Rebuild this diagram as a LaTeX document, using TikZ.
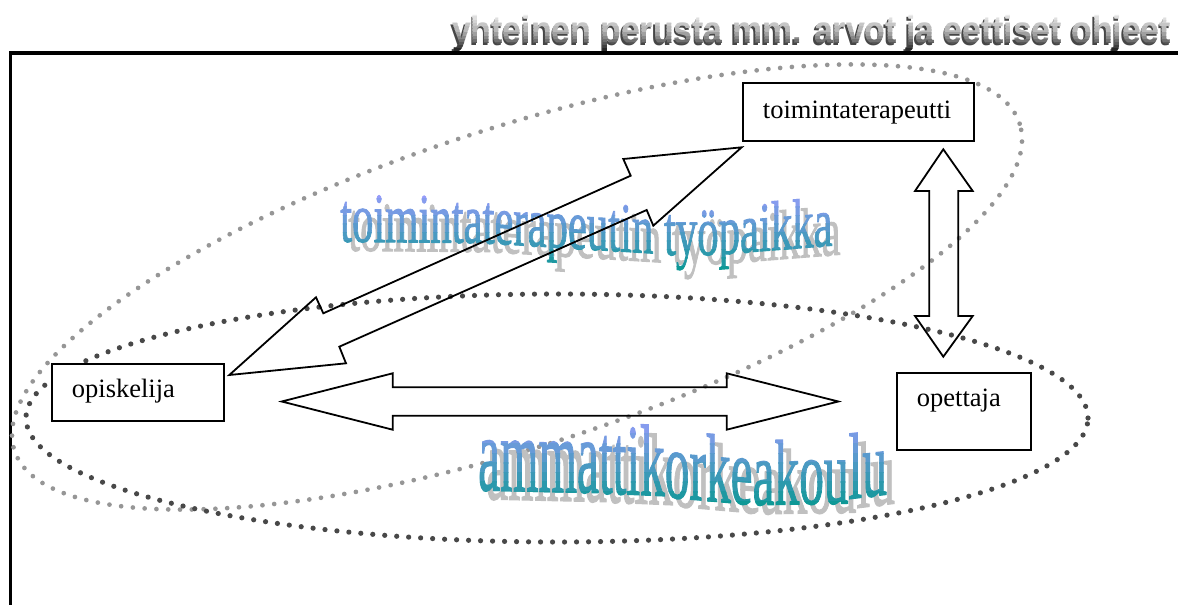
\documentclass[tikz,border=0pt]{standalone}
\usepackage{fontspec}
\setmainfont{Liberation Serif}
\newfontfamily\wasans{Liberation Sans}
\newfontfamily\waserif{Liberation Serif}[FakeBold=1.4]
\usetikzlibrary{calc}
\definecolor{gtop}{RGB}{150,156,250}
\definecolor{gbot}{RGB}{14,152,150}
\definecolor{shad}{RGB}{192,192,192}
\definecolor{ellgray}{RGB}{150,150,150}
\definecolor{elldark}{RGB}{72,72,72}
\definecolor{ttop}{RGB}{236,236,236}
\definecolor{tmid}{RGB}{185,185,185}
\definecolor{tbot}{RGB}{40,40,40}
\definecolor{tshad}{RGB}{70,70,70}
\tikzset{
 frameline/.style={line width=3.5pt, line join=miter},
 dotsgray/.style={draw=ellgray, line width=4.7pt, line cap=round, dash pattern=on 0pt off 11.8pt},
 dotsdark/.style={draw=elldark, line width=5.2pt, line cap=round, dash pattern=on 0pt off 12pt},
 blockarrow/.style={draw=black, line width=1.8pt, line join=miter, miter limit=12},
 rolebox/.style={draw=black, fill=white, line width=1.8pt, inner sep=0pt, anchor=north west},
 rolelabel/.style={anchor=base west, inner sep=0pt, font=\fontsize{26.5}{30}\selectfont},
 waA/.style={anchor=base west, inner sep=0pt, font=\waserif\fontsize{42.7}{50}\selectfont},
 waB/.style={anchor=base west, inner sep=0pt, font=\waserif\fontsize{49.4}{56}\selectfont},
 waTop/.style={anchor=base west, inner sep=0pt, font=\wasans\bfseries\fontsize{33.8}{40}\selectfont, yscale=1.15},
}
\newcommand\WordArtA[1]{%
 \node[waA,#1,yslant=-0.0087,yscale=1.65] (wa1) at (340,241.7) {toiminta};
 \node[waA,#1,yslant=-0.061,yscale=1.65] (wa2) at (482.4,243) {terapeutin};
 \node[waA,#1,yslant=0,yscale=1.65] (wa3) at (663.9,255) {työ};
 \node[waA,#1,yslant=0.0787,yscale=1.65] (wa4) at (718.5,254.5) {paikka};
}
\newcommand\WordArtB[1]{%
 \node[waB,#1,yslant=-0.0227,yscale=2.15] (wb1) at (478,490) {amma};
 \node[waB,#1,yslant=-0.0437,yscale=2.05] (wb2) at (598.7,493) {ttik};
 \node[waB,#1,yslant=-0.0875,yscale=1.95] (wb3) at (664.6,497) {orke};
 \node[waB,#1,yslant=0.0175,yscale=1.88] (wb4) at (752.4,505) {akou};
 \node[waB,#1,yslant=0.12,yscale=1.9] (wb5) at (848.4,499) {lu};
}
\newcommand\WordArtTop[1]{%
 \node[waTop,#1] (wtop) at (452,43.7) {yhteinen perusta mm. arvot ja eettiset ohjeet};
}
\begin{document}
\begin{tikzpicture}[x=1pt,y=-1pt]
\useasboundingbox (0,0) rectangle (1178,605);
\fill[white] (0,0) rectangle (1178,605);
% frame
\coordinate (fbl) at (10.5,605);
\coordinate (ftl) at (10.5,53);
\coordinate (ftr) at (1178,53);
% top title (shadow + metallic gradient)
\begin{scope}[shift={(-1.5,1.5)}]
 \WordArtTop{text=tshad}
\end{scope}
\foreach \i in {0,...,4}{
 \pgfmathsetmacro\ya{14+\i*3.2-0.3}
 \pgfmathsetmacro\yb{14+(\i+1)*3.2+0.3}
 \pgfmathtruncatemacro\pc{100-\i*100/4}
 \begin{scope}
  \clip (440,\ya) rectangle (1178,\yb);
  \WordArtTop{text=ttop!\pc!tmid}
 \end{scope}
}
\foreach \i in {0,...,6}{
 \pgfmathsetmacro\ya{30+\i*3.2-0.3}
 \pgfmathsetmacro\yb{30+(\i+1)*3.2+0.3}
 \pgfmathtruncatemacro\pc{100-\i*100/6}
 \begin{scope}
  \clip (440,\ya) rectangle (1178,\yb);
  \WordArtTop{text=tmid!\pc!tbot}
 \end{scope}
}
\draw[frameline] (fbl) -- (ftl) -- (ftr);
% ellipses
\coordinate (cg) at (517,287);
\coordinate (cd) at (557,418);
\draw[dotsgray, rotate around={18:(cg)}] (cg) ellipse [x radius=528.5pt, y radius=159pt];
\draw[dotsdark] (cd) ellipse [x radius=531pt, y radius=124pt];
% word art: workplace
\begin{scope}[shift={(8,9)}]
 \WordArtA{text=shad}
\end{scope}
\foreach \i in {0,...,9}{
 \pgfmathsetmacro\ya{190+\i*8.5-0.3}
 \pgfmathsetmacro\yb{190+(\i+1)*8.5+0.3}
 \pgfmathtruncatemacro\pc{100-\i*100/9}
 \begin{scope}
  \clip (300,\ya) rectangle (900,\yb);
  \WordArtA{text=gtop!\pc!gbot}
 \end{scope}
}
% word art: university
\begin{scope}[shift={(8,9)}]
 \WordArtB{text=shad}
\end{scope}
\foreach \i in {0,...,9}{
 \pgfmathsetmacro\ya{415+\i*9.6-0.3}
 \pgfmathsetmacro\yb{415+(\i+1)*9.6+0.3}
 \pgfmathtruncatemacro\pc{100-\i*100/9}
 \begin{scope}
  \clip (440,\ya) rectangle (940,\yb);
  \WordArtB{text=gtop!\pc!gbot}
 \end{scope}
}
% block arrows
\coordinate (dA) at (229.3,375);
\coordinate (dB) at (741.7,147.3);
\draw[blockarrow] (dA) -- (316,297.3) -- (323.3,313.3) -- (630.7,175.7) -- (623.3,159) -- (dB)
  -- (653.3,225.7) -- (646.7,210) -- (339.3,346.7) -- (346,363.3) -- cycle;
\coordinate (hA) at (281.7,401.5);
\coordinate (hB) at (838.3,401.5);
\draw[blockarrow] (hA) -- (392.7,373.3) -- (392.7,387.3) -- (726.7,387.3) -- (726.7,373.3) -- (hB)
  -- (726.7,429.7) -- (726.7,415.7) -- (392.7,415.7) -- (392.7,429.7) -- cycle;
\coordinate (vA) at (943.3,149.3);
\coordinate (vB) at (943.3,356.7);
\draw[blockarrow] (vA) -- (972.7,191) -- (958.3,191) -- (958.3,316) -- (972.7,316) -- (vB)
  -- (915,316) -- (929.3,316) -- (929.3,191) -- (915,191) -- cycle;
% role boxes
\node[rolebox, minimum width=231pt, minimum height=57.7pt] (ter) at (741.7,82.3) {};
\node[rolelabel] (terL) at ($(ter.north west)+(21,36)$) {toimintaterapeutti};
\node[rolebox, minimum width=172.6pt, minimum height=57.3pt] (opi) at (50.7,362.7) {};
\node[rolelabel] (opiL) at ($(opi.north west)+(21,35)$) {opiskelija};
\node[rolebox, minimum width=134.3pt, minimum height=76.7pt] (ope) at (895.7,372.3) {};
\node[rolelabel] (opeL) at ($(ope.north west)+(21,34.5)$) {opettaja};
\end{tikzpicture}
\end{document}
